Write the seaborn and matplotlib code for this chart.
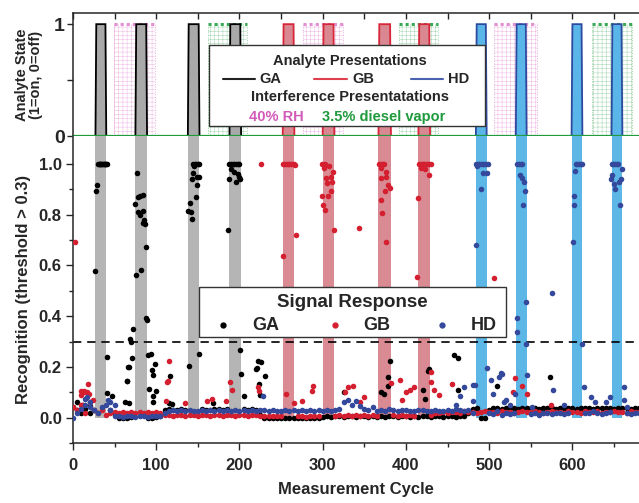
import numpy as np
import matplotlib
matplotlib.use('Agg')
import matplotlib.pyplot as plt
from matplotlib.patches import Rectangle
from matplotlib.lines import Line2D
import seaborn as sns

nan = np.nan

# presentation windows (measurement cycles)
ga_start = [27, 75, 138, 188]
ga_end = [40, 89, 152, 202]
gb_start = [252, 300, 367, 415]
gb_end = [266, 314, 382, 429]
hd_start = [484, 532, 599, 647]
hd_end = [497, 545, 612, 660]
rh_start = [49, 276, 506]
rh_end = [99, 324, 557]
dsl_start = [162, 392, 623]
dsl_end = [209, 439, 671]

# baseline responses, every 5 cycles from 0 to 680
base_cycles = list(range(0, 681, 5))
ga_base = [0.04, 0.03, 0.02, 0.035, 0.02, 0.03, nan, nan, nan, 0.03,
           0.015, 0.0, 0.0, 0.0, 0.002, nan, nan, nan, 0.0, 0.0,
           0.002, 0.005, 0.03, 0.035, 0.032, 0.03, 0.035, 0.03, nan, nan,
           nan, 0.035, 0.032, 0.03, 0.035, 0.034, 0.03, 0.035, nan, nan,
           nan, 0.035, 0.03, 0.035, 0.03, 0.012, 0.0, -0.002, 0.0, -0.002,
           0.0, 0.0, -0.002, 0.0, 0.0, -0.002, 0.0, 0.0, -0.002, 0.0,
           0.002, 0.005, 0.004, 0.006, 0.005, 0.003, 0.006, 0.005, 0.004, 0.006,
           0.005, 0.004, 0.006, 0.003, 0.005, 0.004, 0.006, 0.005, 0.004, 0.005,
           0.006, 0.004, 0.005, 0.003, 0.005, 0.006, 0.004, 0.005, 0.006, 0.004,
           0.005, 0.006, 0.004, 0.005, 0.008, 0.02, 0.035, 0.038, 0.0, 0.0,
           0.03, 0.036, 0.038, 0.035, 0.037, 0.036, 0.038, 0.035, 0.037, 0.038,
           0.036, 0.038, 0.035, 0.037, 0.038, 0.036, 0.035, 0.038, 0.037, 0.036,
           0.038, 0.035, 0.037, 0.038, 0.036, 0.035, 0.038, 0.037, 0.036, 0.038,
           0.035, 0.037, 0.038, 0.036, 0.035, 0.038, 0.037]
gb_base = [0.04, 0.03, 0.05, 0.02, 0.06, 0.03, 0.02, 0.03, 0.01, 0.02,
           0.022, 0.02, 0.024, 0.02, 0.022, 0.02, 0.024, 0.02, 0.022, 0.02,
           0.022, 0.02, 0.012, 0.01, 0.008, 0.012, 0.01, 0.006, 0.012, 0.01,
           0.008, 0.012, 0.01, 0.006, 0.012, 0.01, 0.008, 0.012, 0.01, 0.008,
           0.012, 0.01, 0.006, 0.012, 0.01, 0.008, 0.006, 0.008, 0.005, 0.008,
           0.006, nan, nan, nan, 0.005, 0.008, 0.004, 0.006, 0.005, 0.008,
           nan, nan, nan, 0.008, 0.01, 0.006, 0.012, 0.008, 0.01, 0.006,
           0.01, 0.008, 0.012, 0.006, nan, nan, nan, 0.01, 0.008, 0.012,
           0.008, 0.01, 0.006, nan, nan, nan, 0.012, 0.018, 0.02, 0.022,
           0.02, 0.024, 0.022, 0.02, 0.025, 0.022, 0.024, 0.02, 0.022, 0.025,
           0.022, 0.024, 0.02, 0.025, 0.022, 0.024, 0.02, 0.022, 0.025, 0.024,
           0.022, 0.025, 0.024, 0.02, 0.022, 0.025, 0.024, 0.022, 0.02, 0.025,
           0.024, 0.022, 0.02, 0.025, 0.024, 0.022, 0.025, 0.02, 0.022, 0.024,
           0.025, 0.022, 0.024, 0.02, 0.025, 0.022, 0.024]
hd_base = [0.0, 0.02, 0.035, 0.05, 0.04, 0.03, 0.02, 0.04, 0.05, 0.03,
           0.008, 0.005, 0.004, 0.006, 0.005, 0.004, 0.006, 0.005, 0.004, 0.006,
           0.005, 0.006, 0.02, 0.028, 0.03, 0.027, 0.029, 0.028, 0.03, 0.027,
           0.028, 0.03, 0.027, 0.029, 0.028, 0.03, 0.027, 0.029, 0.028, 0.03,
           0.027, 0.029, 0.028, 0.03, 0.027, 0.03, 0.032, 0.028, 0.03, 0.027,
           0.028, 0.03, 0.027, 0.029, 0.028, 0.03, 0.027, 0.029, 0.028, 0.03,
           0.027, 0.029, 0.028, 0.03, 0.035, 0.06, 0.07, 0.05, 0.065, 0.045,
           0.035, 0.03, 0.04, 0.028, 0.032, 0.025, 0.035, 0.03, 0.028, 0.032,
           0.03, 0.028, 0.025, 0.032, 0.03, 0.028, 0.026, 0.03, 0.028, 0.025,
           0.03, 0.028, 0.035, 0.03, 0.025, 0.03, 0.02, nan, nan, nan,
           0.02, 0.015, 0.025, 0.01, 0.02, 0.015, 0.02, nan, nan, nan,
           0.015, 0.02, 0.012, 0.018, 0.02, 0.015, 0.018, 0.02, 0.015, 0.02,
           nan, nan, nan, 0.02, 0.018, 0.025, 0.02, 0.015, 0.02, 0.022,
           nan, nan, nan, 0.02, 0.015, 0.02, 0.018]

# off-baseline responses (cycle, recognition)
ga_x = [26, 27.2, 28.4, 30, 31, 32, 33, 34, 35, 36, 37, 38, 39, 40, 41,
        40.4, 40.8, 47.2, 5, 12, 20,
        68, 72, 74.4, 75.6, 76.4, 77.6, 77.6, 80.4, 80.4, 81.2, 83.6, 83.6, 83.6,
        85.2, 86.4, 87.2, 88, 89.2,
        62, 64.4, 65.2, 65.6, 67.2, 67.6, 69.2, 70.4,
        90.4, 91.6, 93.2, 94.4, 95.6, 95.6, 96.4, 98.4, 99.6, 115.6, 116.4, 118.4,
        138.4, 140.4, 141.2, 142.4, 143.2, 144, 144.4, 145, 146, 147.6, 148, 148.4,
        149, 150, 151.6, 152, 139.6, 151.6, 168.4,
        186.4, 187.6, 188, 190, 190, 192, 194, 194, 195.6, 196, 198, 198, 199, 200,
        200.4, 201.2, 202.4, 205.6, 220.4, 221.6, 222.4, 223.6, 224.4, 225.6, 231.2,
        325.6, 370.4, 373.6, 378.4, 378.4, 380.4,
        420.4, 423.2, 426.4, 428, 457.6, 462.8, 462.8, 509.6, 573.6]
ga_y = [0.579, 0.895, 0.917, 1.0, 1.0, 1.0, 1.0, 1.0, 1.0, 1.0, 1.0, 1.0, 1.0, 1.0, 1.0,
        0.239, 0.097, 0.084, 0.06, 0.05, 0.045,
        0.311, 0.349, 0.841, 0.563, 0.963, 0.869, 0.812, 0.874, 0.799, 0.58, 0.878, 0.815, 0.766,
        0.78, 0.762, 0.674, 0.392, 0.386,
        0.06, 0.145, 0.143, 0.198, 0.058, 0.2, 0.3, 0.235,
        0.248, 0.113, 0.25, 0.189, 0.169, 0.06, 0.087, 0.213, 0.104, 0.058, 0.165, 0.052,
        0.816, 0.845, 0.81, 0.784, 0.94, 1.0, 0.963, 0.99, 1.0, 0.868, 1.0, 0.915,
        0.95, 1.0, 0.95, 1.0, 0.205, 0.252, 0.058,
        0.74, 0.94, 1.0, 1.0, 0.98, 1.0, 1.0, 0.97, 0.93, 1.0, 1.0, 0.96, 0.95, 1.0,
        0.94, 0.265, 0.172, 0.084, 0.192, 0.197, 0.222, 0.134, 0.09, 0.218, 0.165,
        0.1, 0.1, 0.095, 0.16, 0.125, 0.222,
        0.108, 0.075, 0.182, 0.19, 0.248, 0.235, 0.11, 0.126, 0.16]

gb_x = [2.4, 9.6, 10, 10.8, 12.8, 13, 17, 18.4, 19.2, 23.6,
        111.2, 112.4, 114.4, 115.6, 134.4, 160.8, 166.8, 184.4, 189.2, 191.6,
        222.4, 223, 226,
        252, 252, 254, 256, 258, 260, 262, 264, 266, 267, 267.6,
        256, 265.2, 275.2, 287.2, 288.4,
        298.8, 299.6, 300.4, 301.6, 302.8, 303, 303.6, 305.6, 306.8, 307.6, 309.6, 309.6,
        310.8, 312.4, 313.6,
        327.2, 330, 336, 343.6, 345, 350,
        367.6, 369.6, 370, 370.4, 370.4, 371.2, 372.4, 374, 374.4, 375.6, 376, 376.4,
        378.4, 380.4, 381.6, 392.4, 395, 400, 405, 410,
        413.6, 414.8, 416, 418, 418.4, 420, 422, 423, 424, 426, 427.6, 428, 430,
        429.6, 430, 434, 440, 455.2, 506.4, 528.8, 531.2, 539.2, 546, 574]
gb_y = [0.692, 0.105, 0.09, 0.05, 0.105, 0.1, 0.1, 0.133, 0.095, 0.07,
        0.065, 0.14, 0.145, 0.222, 0.058, 0.065, 0.075, 0.065, 0.139, 0.107,
        0.12, 0.105, 1.0,
        0.638, 1.0, 1.0, 1.0, 1.0, 1.0, 1.0, 1.0, 1.0, 0.995, 0.719,
        0.093, 0.058, 0.064, 0.103, 0.126,
        0.875, 1.0, 0.839, 0.983, 0.82, 1.0, 0.944, 0.924, 0.875, 0.99, 0.95, 0.895,
        0.93, 0.97, 0.74,
        0.1, 0.12, 0.125, 0.747, 0.06, 0.08,
        1.0, 0.944, 1.0, 0.983, 0.858, 0.806, 1.0, 1.0, 0.893, 0.694, 0.97, 0.95,
        0.918, 0.905, 0.137, 0.147, 0.07, 0.1, 0.11, 0.12,
        0.556, 0.865, 1.0, 1.0, 0.983, 1.0, 1.0, 0.98, 1.0, 1.0, 0.955, 1.0, 1.0,
        0.178, 0.14, 0.11, 0.09, 0.133, 0.55, 0.1, 0.156, 0.124, 0.092, 0.05]

hd_x = [14, 17, 20, 42, 45, 50, 228,
        460, 464.4, 470, 480.8, 481, 482.4,
        484, 484.4, 485, 486, 488, 490, 490, 492, 492, 494, 496, 497, 498,
        497.6, 501.6, 505.2, 512.4, 514.4, 515.6, 518, 520, 525, 531.2,
        533.6, 533.6, 534, 536, 536.8, 538, 539.6, 540, 540.8, 542.4, 543.6, 544.4,
        544.8, 545.6, 552, 575.2, 576.4, 590,
        600.4, 601.6, 602.4, 603.6, 604, 606, 608, 610, 611.6, 612, 613.6,
        622.4, 627, 640, 645.6,
        646.8, 647, 648, 649, 650, 651, 651, 653, 655, 656, 657.2, 658, 659,
        661.6, 662.4, 665]
hd_y = [0.075, 0.08, 0.06, 0.07, 0.06, 0.05, 0.084,
        0.05, 0.085, 0.12, 0.065, 0.13, 0.13,
        1.0, 0.68, 0.99, 1.0, 1.0, 1.0, 0.902, 1.0, 0.963, 1.0, 1.0, 0.963, 1.0,
        0.196, 0.15, 0.095, 0.16, 0.176, 0.17, 0.06, 0.07, 0.05, 0.095,
        0.392, 0.336, 1.0, 1.0, 0.958, 1.0, 0.944, 1.0, 0.837, 0.927, 0.893, 0.291,
        0.454, 0.169, 0.04, 0.493, 0.11, 0.05,
        0.694, 0.874, 0.838, 0.973, 1.0, 1.0, 1.0, 1.0, 0.291, 1.0, 0.119,
        0.08, 0.06, 0.06, 0.082,
        0.94, 1.0, 0.958, 1.0, 0.92, 1.0, 0.9, 1.0, 1.0, 0.927, 0.838, 0.94, 0.98,
        0.119, 0.071, 0.04]

sns.set_style('ticks')
plt.rcParams['font.family'] = ['Liberation Sans', 'DejaVu Sans']
plt.rcParams['font.weight'] = 'bold'
plt.rcParams['hatch.linewidth'] = 0.35

c_ga, c_gb, c_hd = 'black', '#d41f30', '#34499c'
pink, green = '#d25ab8', '#1f9a3c'

fig = plt.figure(figsize=(6.39, 5.03), dpi=100)
ax_top = fig.add_axes([0.1142, 0.7296, 0.8858, 0.2446])
ax_bot = fig.add_axes([0.1142, 0.1193, 0.8858, 0.6103])

# ---- top panel: analyte / interferent states
for s, e in zip(rh_start, rh_end):
    ax_top.fill_between([s, e], 0, 1, facecolor='none', edgecolor='#eeb8e4', hatch='++++', lw=0)
    ax_top.plot([s, e], [1, 1], color='#e28fd2', lw=2.2, ls=(0, (1, 1)))
    ax_top.plot([s, s], [0, 1], color='#e8a8dc', lw=0.7, ls=':')
    ax_top.plot([e, e], [0, 1], color='#e8a8dc', lw=0.7, ls=':')
for s, e in zip(dsl_start, dsl_end):
    ax_top.fill_between([s, e], 0, 1, facecolor='none', edgecolor='#a4d6b0', hatch='++++', lw=0)
    ax_top.plot([s, e], [1, 1], color='#3aa856', lw=2.2, ls=(0, (1, 1)))
    ax_top.plot([s, s], [0, 1], color='#98d0a4', lw=0.7, ls=':')
    ax_top.plot([e, e], [0, 1], color='#98d0a4', lw=0.7, ls=':')

for starts, ends, fc, ec in [(ga_start, ga_end, '#a9a9a9', 'black'),
                             (gb_start, gb_end, '#d98790', '#d7263a'),
                             (hd_start, hd_end, '#5ab6e8', '#2e4aa0')]:
    for s, e in zip(starts, ends):
        ax_top.fill([s, s + 1, e - 1, e], [0, 1, 1, 0], facecolor=fc, edgecolor=ec, lw=1.3, zorder=3)

ax_top.axhline(0, color=green, lw=1.6, zorder=4, clip_on=False)
ax_top.set_xlim(0, 680)
ax_top.set_ylim(0, 1.1)
ax_top.set_yticks([0, 1])
ax_top.set_yticklabels(['0', '1'], fontsize=14, fontweight='bold')
ax_top.set_yticks([0.5], minor=True)
ax_top.set_xticks(range(0, 681, 50))
ax_top.tick_params(axis='x', which='both', top=True, bottom=False, labelbottom=False,
                   direction='in', length=4, width=1)
ax_top.tick_params(axis='y', which='both', direction='out', length=4, width=1, pad=2)
for sp in ['right', 'bottom']:
    ax_top.spines[sp].set_visible(False)
for sp in ['left', 'top']:
    ax_top.spines[sp].set_linewidth(1.1)
ax_top.set_ylabel('Analyte State\n(1=on, 0=off)', fontsize=10.5, fontweight='bold',
                  linespacing=1.0, labelpad=8)

# legend box for presentations
ax_top.add_patch(Rectangle((0.240, 0.081), 0.488, 0.659, transform=ax_top.transAxes,
                           facecolor='white', edgecolor='#333333', lw=1.0, zorder=10))
tk = dict(transform=ax_top.transAxes, zorder=11, fontweight='bold', fontsize=10.5)
ax_top.text(0.489, 0.612, 'Analyte Presentations', ha='center', va='center', **tk)
ax_top.text(0.489, 0.315, 'Interference Presentatations', ha='center', va='center', **tk)
ax_top.text(0.359, 0.157, '40% RH', ha='center', va='center', color=pink, **tk)
ax_top.text(0.549, 0.157, '3.5% diesel vapor', ha='center', va='center', color=green, **tk)
for x0, x1, tx, lab, col in [(0.265, 0.322, 0.330, 'GA', '#222222'),
                             (0.426, 0.484, 0.494, 'GB', '#e0404e'),
                             (0.597, 0.654, 0.663, 'HD', '#4a62b0')]:
    ax_top.add_line(Line2D([x0, x1], [0.461, 0.461], transform=ax_top.transAxes,
                           color=col, lw=1.5, zorder=11))
    ax_top.text(tx, 0.461, lab, ha='left', va='center', **tk)

# ---- bottom panel: recognition
widths_ga = [e - s for s, e in zip(ga_start, ga_end)]
widths_gb = [e - s for s, e in zip(gb_start, gb_end)]
widths_hd = [e - s for s, e in zip(hd_start, hd_end)]
ax_bot.bar(ga_start, 1.11, width=widths_ga, bottom=0, align='edge', color='#b5b5b5', lw=0, zorder=0)
ax_bot.bar(gb_start, 1.11, width=widths_gb, bottom=0, align='edge', color='#d98a92', lw=0, zorder=0)
ax_bot.bar(hd_start, 1.11, width=widths_hd, bottom=0, align='edge', color='#5cb7e6', lw=0, zorder=0)

ax_bot.axhline(0.3, color='black', lw=1.2, ls=(0, (5, 3.5)), zorder=1)

ms = 16
sns.scatterplot(x=base_cycles, y=ga_base, color=c_ga, s=ms, linewidth=0, ax=ax_bot, zorder=2, legend=False)
sns.scatterplot(x=ga_x, y=ga_y, color=c_ga, s=ms, linewidth=0, ax=ax_bot, zorder=2, legend=False)
sns.scatterplot(x=base_cycles, y=gb_base, color=c_gb, s=ms, linewidth=0, ax=ax_bot, zorder=3, legend=False)
sns.scatterplot(x=gb_x, y=gb_y, color=c_gb, s=ms, linewidth=0, ax=ax_bot, zorder=3, legend=False)
sns.scatterplot(x=base_cycles, y=hd_base, color=c_hd, s=ms, linewidth=0, ax=ax_bot, zorder=4, legend=False)
sns.scatterplot(x=hd_x, y=hd_y, color=c_hd, s=ms, linewidth=0, ax=ax_bot, zorder=4, legend=False)

ax_bot.set_xlim(0, 680)
ax_bot.set_ylim(-0.1, 1.11)
ax_bot.set_yticks([0.0, 0.2, 0.4, 0.6, 0.8, 1.0])
ax_bot.set_yticklabels(['0.0', '0.2', '0.4', '0.6', '0.8', '1.0'], fontsize=12, fontweight='bold')
ax_bot.set_yticks([-0.1, 0.1, 0.3, 0.5, 0.7, 0.9], minor=True)
ax_bot.set_xticks([0, 100, 200, 300, 400, 500, 600])
ax_bot.set_xticklabels(['0', '100', '200', '300', '400', '500', '600'], fontsize=12, fontweight='bold')
ax_bot.set_xticks([50, 150, 250, 350, 450, 550, 650], minor=True)
ax_bot.tick_params(axis='both', which='major', direction='out', length=5, width=1, pad=3)
ax_bot.tick_params(axis='both', which='minor', direction='out', length=3, width=1)
ax_bot.tick_params(axis='x', which='major', pad=6)
for sp in ['right', 'top']:
    ax_bot.spines[sp].set_visible(False)
for sp in ['left', 'bottom']:
    ax_bot.spines[sp].set_linewidth(1.1)
ax_bot.set_xlabel('Measurement Cycle', fontsize=12, fontweight='bold', labelpad=6)
ax_bot.set_ylabel('Recognition (threshold > 0.3)', fontsize=12, fontweight='bold', labelpad=6)

# legend box for signal response
ax_bot.add_patch(Rectangle((0.223, 0.345), 0.542, 0.163, transform=ax_bot.transAxes,
                           facecolor='white', edgecolor='#333333', lw=1.0, zorder=10))
tb = dict(transform=ax_bot.transAxes, zorder=11, fontweight='bold')
ax_bot.text(0.493, 0.458, 'Signal Response', ha='center', va='center', fontsize=13.5, **tb)
for dx, tx, lab, col in [(0.265, 0.316, 'GA', c_ga), (0.463, 0.512, 'GB', c_gb), (0.652, 0.703, 'HD', c_hd)]:
    ax_bot.add_line(Line2D([dx], [0.384], transform=ax_bot.transAxes, marker='o', ms=3.5,
                           color=col, lw=0, zorder=11))
    ax_bot.text(tx, 0.384, lab, ha='left', va='center', fontsize=13, **tb)

fig.savefig('out.png', dpi=100)
